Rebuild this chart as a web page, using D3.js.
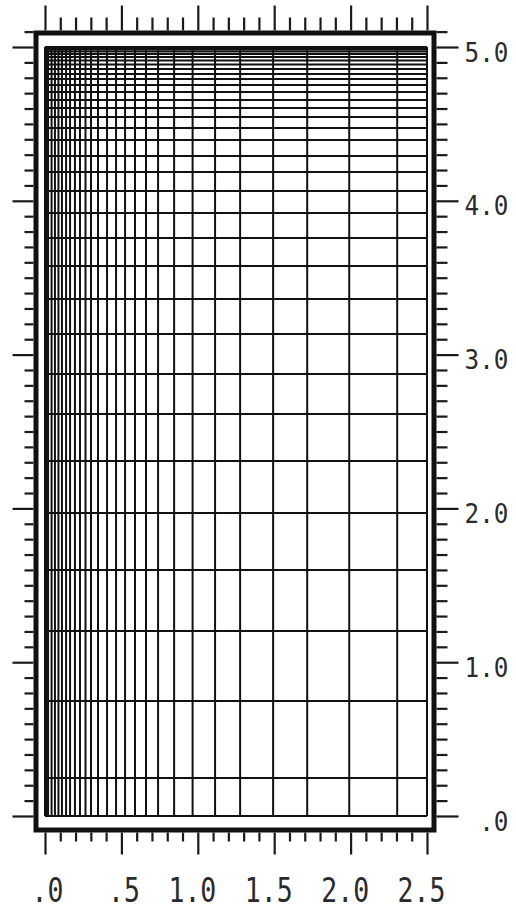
<!DOCTYPE html>
<html>
<head>
<meta charset="utf-8">
<script src="https://cdn.jsdelivr.net/npm/d3@7"></script>
<style>
  body { margin: 0; background: #fff; }
  svg { display: block; }
</style>
</head>
<body>
<div id="chart"></div>
<script>
// grid line positions (x = radial, y = axial)
var xLines = [0, 0.010, 0.020, 0.043, 0.065, 0.088, 0.111, 0.138, 0.164, 0.196,
              0.229, 0.265, 0.301, 0.347, 0.406, 0.465, 0.524, 0.589, 0.661, 0.740,
              0.845, 0.966, 1.113, 1.277, 1.493, 1.716, 1.991, 2.305, 2.5];
var yLines = [0, 0.247, 0.748, 1.203, 1.600, 1.970, 2.308, 2.614, 2.874, 3.134,
              3.361, 3.576, 3.758, 3.921, 4.064, 4.187, 4.291, 4.395, 4.473, 4.545,
              4.603, 4.655, 4.707, 4.753, 4.792, 4.824, 4.857, 4.886, 4.912, 4.935,
              4.954, 4.971, 4.984, 4.993, 5.0];

// axis ticks
var xTicks = d3.range(0, 26).map(function(i) { return i / 10; });
var yTicks = d3.range(0, 52).map(function(i) { return i / 10; });
var xMajor = [0, 0.5, 1.0, 1.5, 2.0, 2.5];
var yMajor = [0, 1, 2, 3, 4, 5];

var W = 516, H = 910;

var svg = d3.select("#chart")
  .append("svg")
    .attr("width", W)
    .attr("height", H);

svg.append("rect").attr("width", W).attr("height", H).attr("fill", "#fff");

var x = d3.scaleLinear().domain([0, 2.5]).range([45, 427]);
var y = d3.scaleLinear().domain([0, 5]).range([816, 47]);

function isMajor(list, d) {
  return list.some(function(m) { return Math.abs(m - d) < 1e-6; });
}
function fmt(d) {
  return d3.format(".1f")(d).replace(/^0/, "");
}

// outer frame
var frame = {left: 36, right: 434, top: 33, bottom: 830};
svg.append("rect")
  .attr("x", frame.left)
  .attr("y", frame.top)
  .attr("width", frame.right - frame.left)
  .attr("height", frame.bottom - frame.top)
  .attr("fill", "none")
  .attr("stroke", "#111")
  .attr("stroke-width", 5);

// mesh
var mesh = svg.append("g").attr("stroke", "#111").attr("stroke-width", 2);
mesh.selectAll("line.v")
  .data(xLines)
  .enter().append("line")
    .attr("class", "v")
    .attr("x1", function(d) { return x(d); })
    .attr("x2", function(d) { return x(d); })
    .attr("y1", y(0))
    .attr("y2", y(5));
mesh.selectAll("line.h")
  .data(yLines)
  .enter().append("line")
    .attr("class", "h")
    .attr("x1", x(0))
    .attr("x2", x(2.5))
    .attr("y1", function(d) { return y(d); })
    .attr("y2", function(d) { return y(d); });

// axes (ticks hang off the frame)
function styleAxis(g) {
  g.select(".domain").remove();
  g.selectAll(".tick line").attr("stroke", "#1a1a1a").attr("stroke-width", 2.2);
}

var topAx = svg.append("g")
  .attr("transform", "translate(0," + (frame.top - 2.5) + ")")
  .call(d3.axisTop(x).tickValues(xTicks).tickSize(13).tickFormat(""));
styleAxis(topAx);
topAx.selectAll(".tick line").attr("y2", function(d) { return isMajor(xMajor, d) ? -25 : -13; });

var botAx = svg.append("g")
  .attr("transform", "translate(0," + (frame.bottom + 2.5) + ")")
  .call(d3.axisBottom(x).tickValues(xTicks).tickSize(9).tickFormat(function(d) {
    return isMajor(xMajor, d) ? fmt(d) : "";
  }));
styleAxis(botAx);
botAx.selectAll(".tick line").attr("y2", function(d) { return isMajor(xMajor, d) ? 22 : 9; });
botAx.selectAll(".tick text")
  .attr("font-family", "DejaVu Sans Mono, monospace")
  .attr("font-size", 34)
  .attr("fill", "#2a2a2a")
  .attr("text-anchor", "end")
  .attr("transform", "scale(0.78,1)")
  .attr("x", 18 / 0.78)
  .attr("y", 70)
  .attr("dy", 0);

var leftAx = svg.append("g")
  .attr("transform", "translate(" + (frame.left - 2.5) + ",0)")
  .call(d3.axisLeft(y).tickValues(yTicks).tickSize(9).tickFormat(""));
styleAxis(leftAx);
leftAx.selectAll(".tick line").attr("x2", function(d) { return isMajor(yMajor, d) ? -21 : -9; });

var rightAx = svg.append("g")
  .attr("transform", "translate(" + (frame.right + 2.5) + ",0)")
  .call(d3.axisRight(y).tickValues(yTicks).tickSize(11).tickFormat(function(d) {
    return isMajor(yMajor, d) ? fmt(d) : "";
  }));
styleAxis(rightAx);
rightAx.selectAll(".tick line").attr("x2", function(d) { return isMajor(yMajor, d) ? 22 : 11; });
rightAx.selectAll(".tick text")
  .attr("font-family", "DejaVu Sans Mono, monospace")
  .attr("font-size", 27)
  .attr("fill", "#2a2a2a")
  .attr("text-anchor", "end")
  .attr("transform", "scale(0.9,1)")
  .attr("x", 72 / 0.9)
  .attr("dy", 0)
  .attr("y", 14);
</script>
</body>
</html>
